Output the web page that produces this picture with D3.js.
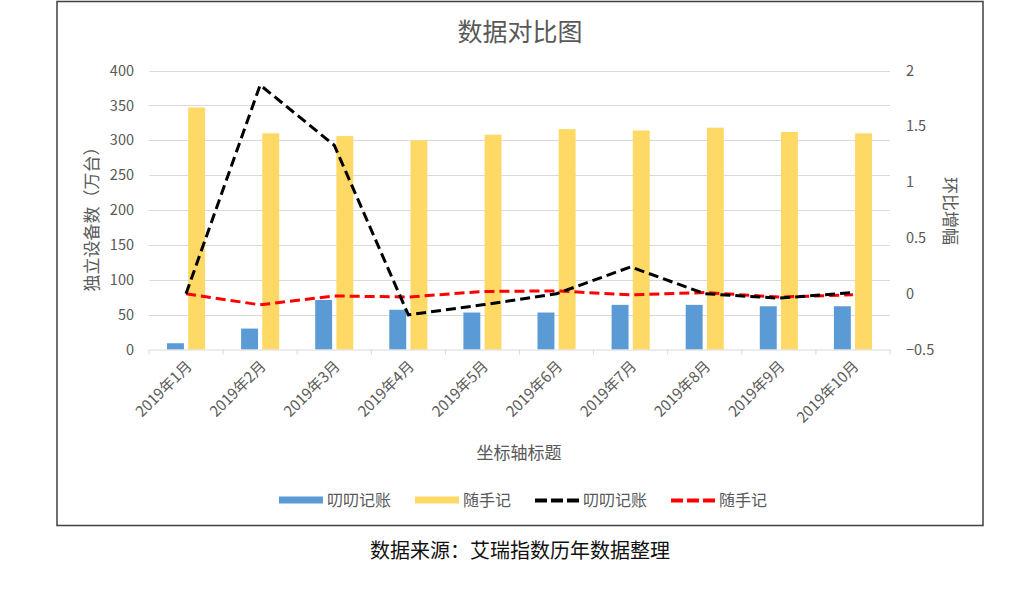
<!DOCTYPE html>
<html>
<head>
<meta charset="utf-8">
<script src="https://cdn.jsdelivr.net/npm/d3@7"></script>
<style>
  body { margin: 0; background: #fff; }
  text { font-family: "Noto Sans CJK SC", "Noto Sans", sans-serif; }
</style>
</head>
<body>
<script>
// Data
var months = ["2019年1月", "2019年2月", "2019年3月", "2019年4月", "2019年5月",
              "2019年6月", "2019年7月", "2019年8月", "2019年9月", "2019年10月"];
var daoDevices = [9, 30, 71, 57, 53, 53, 64, 64, 62, 62];        // 叨叨记账 bars
var suiDevices = [347, 310, 306, 300, 308, 316, 314, 318, 312, 310]; // 随手记 bars
var daoRatio = [0, 1.87, 1.33, -0.19, -0.1, 0, 0.24, 0, -0.04, 0.01];
var suiRatio = [0, -0.1, -0.02, -0.03, 0.02, 0.025, -0.01, 0.01, -0.03, -0.01];
var leftTicks = [0, 50, 100, 150, 200, 250, 300, 350, 400];
var rightTicks = [-0.5, 0, 0.5, 1, 1.5, 2];
var seriesNames = ["叨叨记账", "随手记"];

var W = 1024, H = 610;
var plotLeft = 149, plotRight = 890, plotTop = 70.5, plotBottom = 349.5;
var grey = "#595959";

var svg = d3.select("body").append("svg")
  .attr("width", W)
  .attr("height", H);

// frame
svg.append("rect")
  .attr("x", 57).attr("y", 1.5)
  .attr("width", 926).attr("height", 524)
  .attr("fill", "#fff")
  .attr("stroke", "#404040")
  .attr("stroke-width", 1.5);

// scales
var x0 = d3.scaleBand().domain(months).range([plotLeft, plotRight]);
var x1 = d3.scaleBand().domain(seriesNames).range([18, x0.bandwidth() - 18]).paddingInner(0.2);
var yL = d3.scaleLinear().domain([0, 400]).range([plotBottom, plotTop]);
var yR = d3.scaleLinear().domain([-0.5, 2]).range([plotBottom, plotTop]);

// gridlines
svg.append("g").selectAll("line")
  .data(leftTicks.filter(function (d) { return d > 0; }))
  .enter().append("line")
  .attr("x1", plotLeft).attr("x2", plotRight)
  .attr("y1", function (d) { return Math.round(yL(d)) + 0.5; })
  .attr("y2", function (d) { return Math.round(yL(d)) + 0.5; })
  .attr("stroke", "#d9d9d9");

// left axis
var yAxisL = svg.append("g")
  .attr("transform", "translate(" + plotLeft + ",0)")
  .call(d3.axisLeft(yL).tickValues(leftTicks).tickSize(0).tickPadding(15));
yAxisL.select(".domain").remove();
yAxisL.selectAll("text").attr("fill", grey).style("font-size", "14.5px");

// right axis
var yAxisR = svg.append("g")
  .attr("transform", "translate(" + plotRight + ",0)")
  .call(d3.axisRight(yR).tickValues(rightTicks).tickSize(0).tickPadding(16).tickFormat(d3.format("")));
yAxisR.select(".domain").remove();
yAxisR.selectAll("text").attr("fill", grey).style("font-size", "14.5px");

// bars
var groups = svg.append("g").selectAll("g")
  .data(months)
  .enter().append("g")
  .attr("transform", function (d) { return "translate(" + x0(d) + ",0)"; });

groups.append("rect")
  .attr("x", x1("叨叨记账"))
  .attr("width", x1.bandwidth())
  .attr("y", function (d, i) { return yL(daoDevices[i]); })
  .attr("height", function (d, i) { return plotBottom - yL(daoDevices[i]); })
  .attr("fill", "#5b9bd5");

groups.append("rect")
  .attr("x", x1("随手记"))
  .attr("width", x1.bandwidth())
  .attr("y", function (d, i) { return yL(suiDevices[i]); })
  .attr("height", function (d, i) { return plotBottom - yL(suiDevices[i]); })
  .attr("fill", "#ffd966");

// x axis
var xAxis = svg.append("g")
  .attr("transform", "translate(0," + plotBottom + ")")
  .call(d3.axisBottom(x0).tickSize(0).tickPadding(0));
xAxis.select(".domain").attr("stroke", "#d9d9d9");
xAxis.selectAll(".tick line").remove();
xAxis.selectAll("text")
  .attr("fill", grey)
  .style("font-size", "15px")
  .attr("text-anchor", "end")
  .attr("dy", "0.35em")
  .attr("transform", "translate(3,14) rotate(-45)");

// category boundary ticks
svg.append("g").selectAll("line")
  .data(d3.range(months.length + 1))
  .enter().append("line")
  .attr("x1", function (i) { return plotLeft + i * x0.step(); })
  .attr("x2", function (i) { return plotLeft + i * x0.step(); })
  .attr("y1", plotBottom).attr("y2", plotBottom + 5)
  .attr("stroke", "#d9d9d9");

// ratio lines
var line = d3.line()
  .x(function (d, i) { return x0(months[i]) + x0.bandwidth() / 2; })
  .y(function (d) { return yR(d); });

svg.append("path")
  .datum(suiRatio)
  .attr("d", line)
  .attr("fill", "none")
  .attr("stroke", "#ff0000")
  .attr("stroke-width", 3)
  .attr("stroke-dasharray", "10,5");

svg.append("path")
  .datum(daoRatio)
  .attr("d", line)
  .attr("fill", "none")
  .attr("stroke", "#000")
  .attr("stroke-width", 3)
  .attr("stroke-dasharray", "10,5");

// titles
svg.append("text")
  .attr("x", 520).attr("y", 41)
  .attr("text-anchor", "middle")
  .attr("fill", grey)
  .style("font-size", "25px")
  .text("数据对比图");

svg.append("text")
  .attr("transform", "translate(98,215) rotate(-90)")
  .attr("text-anchor", "middle")
  .attr("fill", grey)
  .style("font-size", "17px")
  .text("独立设备数（万台）");

svg.append("text")
  .attr("transform", "translate(944,211) rotate(90)")
  .attr("text-anchor", "middle")
  .attr("fill", grey)
  .style("font-size", "17px")
  .text("环比增幅");

svg.append("text")
  .attr("x", 519).attr("y", 459)
  .attr("text-anchor", "middle")
  .attr("fill", grey)
  .style("font-size", "17px")
  .text("坐标轴标题");

// legend
var legendItems = [
  { name: "叨叨记账", type: "bar", color: "#5b9bd5" },
  { name: "随手记", type: "bar", color: "#ffd966" },
  { name: "叨叨记账", type: "line", color: "#000" },
  { name: "随手记", type: "line", color: "#ff0000" }
];
var legend = svg.append("g");
var lx = 0;
legendItems.forEach(function (item) {
  var g = legend.append("g").attr("transform", "translate(" + lx + ",0)");
  if (item.type === "bar") {
    g.append("rect").attr("x", 0).attr("y", -4).attr("width", 44).attr("height", 7).attr("fill", item.color);
  } else {
    g.append("line").attr("x1", 0).attr("x2", 44).attr("y1", 0).attr("y2", 0)
      .attr("stroke", item.color).attr("stroke-width", 4).attr("stroke-dasharray", "12,4");
  }
  var t = g.append("text")
    .attr("x", 48).attr("y", 0).attr("dy", "0.35em")
    .attr("fill", grey)
    .style("font-size", "16px")
    .text(item.name);
  lx += 48 + t.node().getComputedTextLength() + 24;
});
lx -= 24;
legend.attr("transform", "translate(" + (523 - lx / 2) + ",500.5)");

// source caption
svg.append("text")
  .attr("x", 520).attr("y", 558)
  .attr("text-anchor", "middle")
  .attr("fill", "#111")
  .style("font-size", "20px")
  .text("数据来源：艾瑞指数历年数据整理");
</script>
</body>
</html>
